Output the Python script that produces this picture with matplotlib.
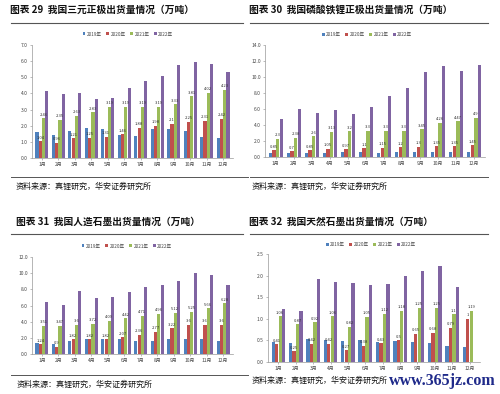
import matplotlib
matplotlib.use("Agg")
import matplotlib.pyplot as plt
from matplotlib.lines import Line2D
import numpy as np

plt.rcParams['font.family'] = ['Noto Sans CJK SC', 'DejaVu Sans']

months = ["1月", "2月", "3月", "4月", "5月", "6月", "7月", "8月", "9月", "10月", "11月", "12月"]
years = ["2019年", "2020年", "2021年", "2022年"]
colors = ["#4F81BD", "#C0504D", "#9BBB59", "#8064A2"]

# Panel 29: ternary cathode
ncm_2019 = [1.58, 1.42, 1.67, 1.88, 1.79, 1.42, 1.38, 1.79, 1.79, 1.67, 1.27, 1.21]
ncm_2020 = [1.04, 0.96, 1.21, 1.25, 1.31, 1.46, 1.88, 1.98, 2.10, 2.25, 2.31, 2.42]
ncm_2021 = [2.46, 2.35, 2.63, 2.83, 3.19, 3.19, 3.19, 3.19, 3.33, 3.81, 4.02, 4.23]
ncm_2022 = [4.17, 3.96, 4.02, 3.67, 3.71, 4.33, 4.75, 5.06, 5.79, 5.96, 5.83, 5.31]

# Panel 30: LFP cathode
lfp_2019 = [0.50, 0.45, 0.55, 0.55, 0.60, 0.60, 0.55, 0.65, 0.60, 0.60, 0.60, 0.60]
lfp_2020 = [0.85, 0.70, 0.85, 1.05, 0.97, 1.10, 1.15, 1.20, 1.30, 1.35, 1.35, 1.45]
lfp_2021 = [2.30, 2.38, 2.60, 3.13, 3.20, 3.30, 3.30, 3.30, 3.45, 4.26, 4.47, 4.90]
lfp_2022 = [4.70, 6.00, 5.56, 5.93, 5.43, 6.20, 7.65, 8.57, 10.57, 11.37, 10.78, 11.49]

# Panel 31: synthetic graphite
syn_2019 = [1.32, 1.24, 1.65, 1.82, 1.86, 1.82, 1.65, 1.65, 1.82, 1.82, 1.82, 1.65]
syn_2020 = [1.24, 0.90, 1.82, 1.82, 1.82, 2.07, 2.36, 2.77, 3.22, 3.60, 3.60, 3.60]
syn_2021 = [3.51, 3.47, 3.60, 3.72, 4.09, 4.42, 4.71, 4.96, 5.12, 5.25, 5.66, 6.28]
syn_2022 = [6.49, 6.07, 7.81, 6.98, 7.10, 7.64, 8.35, 8.55, 9.09, 10.00, 9.79, 8.55]

# Panel 32: natural graphite (no Dec 2022 value)
nat_2019 = [0.46, 0.43, 0.54, 0.52, 0.48, 0.50, 0.46, 0.48, 0.46, 0.45, 0.38, 0.35]
nat_2020 = [0.41, 0.25, 0.42, 0.42, 0.27, 0.38, 0.43, 0.50, 0.65, 0.68, 0.79, 1.00]
nat_2021 = [1.06, 0.87, 0.92, 1.06, 0.82, 1.05, 1.12, 1.18, 1.25, 1.25, 1.10, 1.19]
nat_2022 = [1.22, 1.19, 1.91, 1.85, 1.82, 1.79, 1.81, 1.98, 2.10, 2.22, 1.74, None]

titles = [
    "图表 29  我国三元正极出货量情况（万吨）",
    "图表 30  我国磷酸铁锂正极出货量情况（万吨）",
    "图表 31  我国人造石墨出货量情况（万吨）",
    "图表 32  我国天然石墨出货量情况（万吨）",
]
source = "资料来源：真锂研究，华安证券研究所"

W, H = 500, 394
fig = plt.figure(figsize=(W / 100, H / 100), dpi=100)


def fx(x):
    return x / W


def fy(y):
    return 1 - y / H


def hline(x0, x1, y, color="#555555", lw=0.8):
    fig.add_artist(Line2D([fx(x0), fx(x1)], [fy(y), fy(y)], transform=fig.transFigure,
                          color=color, lw=lw))


def panel(rect_px, series, ymax, ystep, label_idx, legend_xy):
    l, t, r, b = rect_px
    ax = fig.add_axes([fx(l), fy(b), (r - l) / W, (b - t) / H])
    x = np.arange(len(months))
    bw = 0.19
    offs = [-1.5, -0.5, 0.5, 1.5]
    handles = []
    for i, s in enumerate(series):
        xs = [xi + offs[i] * 0.2 for xi, v in zip(x, s) if v is not None]
        vs = [v for v in s if v is not None]
        bars = ax.bar(xs, vs, width=bw, color=colors[i], label=years[i])
        handles.append(bars)
        if i in label_idx:
            for xx, vv in zip(xs, vs):
                ax.text(xx, vv + ymax * 0.015, f"{vv:g}", ha="center", va="bottom",
                        fontsize=3.0, color="#333333")
    ax.set_xlim(-0.6, len(months) - 0.4)
    ax.set_ylim(0, ymax)
    ticks = np.arange(0, ymax + 1e-9, ystep)
    ax.set_yticks(ticks)
    ax.set_yticklabels([f"{v:.1f}" for v in ticks], fontsize=3.5, color="#444444")
    ax.set_xticks(x)
    ax.set_xticklabels(months, fontsize=3.5, color="#444444")
    ax.tick_params(axis="both", length=1.5, width=0.4, pad=1.5, colors="#888888",
                   labelcolor="#444444")
    for sp in ["top", "right"]:
        ax.spines[sp].set_visible(False)
    for sp in ["left", "bottom"]:
        ax.spines[sp].set_color("#999999")
        ax.spines[sp].set_linewidth(0.5)
    fig.legend(handles=handles, labels=years, loc="center",
               bbox_to_anchor=(fx(legend_xy[0]), fy(legend_xy[1])), ncol=4,
               frameon=False, fontsize=3.3, handlelength=0.6, handleheight=0.6,
               handletextpad=0.3, columnspacing=1.0, labelcolor="#444444")
    return ax


panel((32, 45, 233, 158), [ncm_2019, ncm_2020, ncm_2021, ncm_2022], 7.0, 1.0, [1, 2], (128, 34))
panel((265, 45, 485, 157), [lfp_2019, lfp_2020, lfp_2021, lfp_2022], 14.0, 2.0, [1, 2], (367, 35))
panel((32, 257, 233, 354), [syn_2019, syn_2020, syn_2021, syn_2022], 12.0, 2.0, [1, 2], (127, 246))
panel((268, 254, 480, 362), [nat_2019, nat_2020, nat_2021, nat_2022], 2.5, 0.5, [1, 2], (371, 245))

# titles
tstyle = dict(fontsize=7, fontweight="bold", color="#111111", va="center", ha="left")
fig.text(fx(10), fy(10), titles[0], **tstyle)
fig.text(fx(249), fy(10), titles[1], **tstyle)
fig.text(fx(16), fy(222), titles[2], **tstyle)
fig.text(fx(249), fy(222), titles[3], **tstyle)

# rules under titles
hline(11, 243, 22.5)
hline(250, 488, 22.5)
hline(11, 243, 233.5)
hline(250, 488, 233.5)

# source rules and text
hline(11, 248, 177, lw=0.7)
hline(250, 488, 177, lw=0.7)
hline(11, 248, 375, lw=0.7)
sstyle = dict(fontsize=5.8, color="#111111", va="center", ha="left")
fig.text(fx(16), fy(186), source, **sstyle)
fig.text(fx(252), fy(186), source, **sstyle)
fig.text(fx(17), fy(384), source, **sstyle)
fig.text(fx(252), fy(380), source, **sstyle)

# watermark
fig.text(fx(496), fy(381), "www.365jz.com", fontsize=11.5, fontweight="bold",
         family=["Liberation Serif", "DejaVu Serif"], color="#1F2A8A", ha="right", va="center")

fig.savefig("out.png", dpi=100)
